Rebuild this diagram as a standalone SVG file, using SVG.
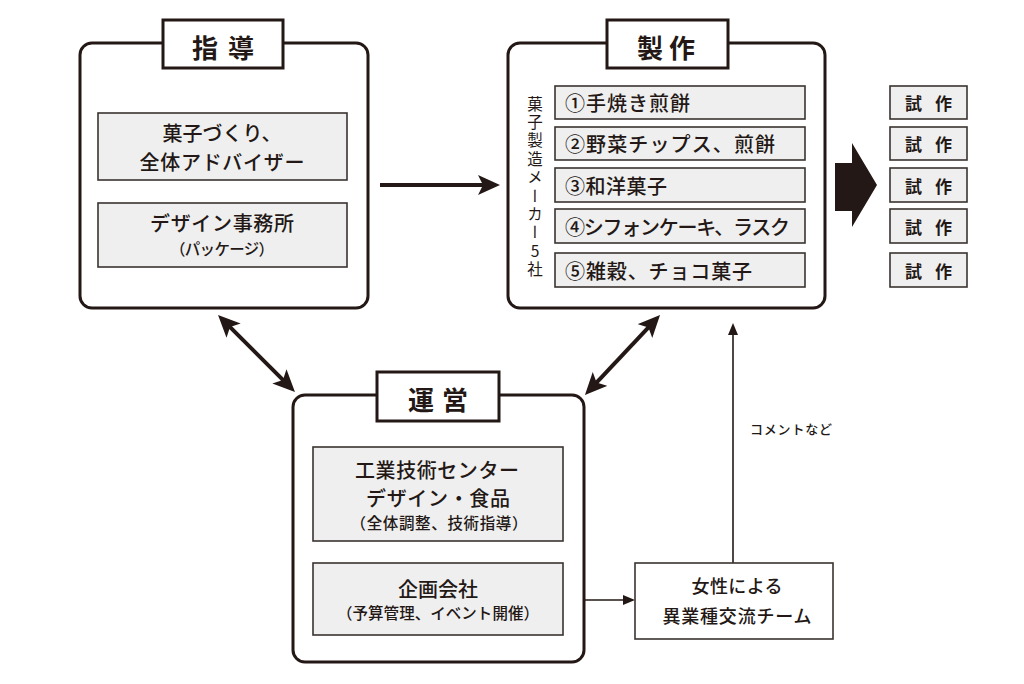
<svg xmlns="http://www.w3.org/2000/svg" width="1024" height="684" viewBox="0 0 1024 684">
<defs>
<style>
.outer{fill:#fff;stroke:#231815;stroke-width:3}
.title{fill:#fff;stroke:#231815;stroke-width:3}
.inner{fill:#efefef;stroke:#3a3330;stroke-width:1.6}
.plain{fill:#fff;stroke:#3a3330;stroke-width:1.6}
text{font-family:"Noto Sans CJK JP","Noto Sans CJK SC",sans-serif;fill:#231815;dominant-baseline:central}
.tt{font-size:26px;font-weight:700;text-anchor:middle}
.t20{font-size:20px;font-weight:500;text-anchor:middle}
.t16{font-size:15.5px;font-weight:500;text-anchor:middle}
.it{font-size:20px;font-weight:500}
.sk{font-size:17px;font-weight:700;text-anchor:middle}
.t18{font-size:18px;font-weight:500;text-anchor:middle}
.sm{font-size:13px;font-weight:500}
.thick{stroke:#231815;stroke-width:4;fill:none}
.thin{stroke:#231815;stroke-width:1.6;fill:none}
</style>
<marker id="ah" viewBox="0 0 22 20" markerUnits="userSpaceOnUse" markerWidth="22" markerHeight="20" refX="12" refY="10" orient="auto-start-reverse">
<path d="M0,0 L22,10 L0,20 L5,10 z" fill="#231815"/>
</marker>
<marker id="ahs" viewBox="0 0 12 10" markerUnits="userSpaceOnUse" markerWidth="12" markerHeight="10" refX="6" refY="5" orient="auto">
<path d="M0,0 L12,5 L0,10 z" fill="#231815"/>
</marker>
</defs>

<g id="connectors">
<line class="thick" x1="380" y1="185" x2="490" y2="185" marker-end="url(#ah)"/>
<line class="thick" x1="225.1" y1="322.1" x2="287.9" y2="384.9" marker-start="url(#ah)" marker-end="url(#ah)"/>
<line class="thick" x1="653.2" y1="322.3" x2="591.8" y2="387.7" marker-start="url(#ah)" marker-end="url(#ah)"/>
<line class="thin" x1="563" y1="600" x2="629" y2="600" marker-end="url(#ahs)"/>
<line class="thin" x1="733" y1="563" x2="733" y2="329" marker-end="url(#ahs)"/>
<text class="sm" x="750" y="428" textLength="82" lengthAdjust="spacing">コメントなど</text>
<polygon points="835,163 852,163 852,143 877,185 852,227 852,211 835,211" fill="#231815"/>
</g>

<g id="shidou">
<rect class="outer" x="80" y="43" width="288" height="265" rx="12"/>
<rect class="title" x="163" y="20" width="120" height="48"/>
<text class="tt" x="223" y="46" textLength="62" lengthAdjust="spacing">指 導</text>
<rect class="inner" x="98" y="113" width="249" height="67"/>
<text class="t20" x="222" y="132">菓子づくり、</text>
<text class="t20" x="222" y="161" textLength="165" lengthAdjust="spacing">全体アドバイザー</text>
<rect class="inner" x="98" y="203" width="249" height="64"/>
<text class="t20" x="222" y="222" textLength="144" lengthAdjust="spacing">デザイン事務所</text>
<text class="t16" x="222" y="248" textLength="104" lengthAdjust="spacing">（パッケージ）</text>
</g>

<g id="seisaku">
<rect class="outer" x="508" y="43" width="317" height="265" rx="12"/>
<rect class="title" x="607" y="20" width="121" height="48"/>
<text class="tt" x="666" y="46" textLength="58" lengthAdjust="spacing">製 作</text>
<text x="535" y="96" style="font-size:15.5px;font-weight:400;writing-mode:vertical-rl;text-orientation:upright;letter-spacing:2.9px;dominant-baseline:auto">菓子製造メーカー5社</text>
<rect class="inner" x="555" y="86" width="250" height="33"/>
<text class="it" x="565" y="102.5" textLength="125" lengthAdjust="spacing">①手焼き煎餅</text>
<rect class="inner" x="555" y="127" width="250" height="33"/>
<text class="it" x="565" y="143.5" textLength="210" lengthAdjust="spacing">②野菜チップス、煎餅</text>
<rect class="inner" x="555" y="168" width="250" height="34"/>
<text class="it" x="565" y="185" textLength="102" lengthAdjust="spacing">③和洋菓子</text>
<rect class="inner" x="555" y="209" width="250" height="34"/>
<text class="it" x="565" y="226" textLength="225" lengthAdjust="spacing">④シフォンケーキ、ラスク</text>
<rect class="inner" x="555" y="253" width="250" height="34"/>
<text class="it" x="565" y="270" textLength="187" lengthAdjust="spacing">⑤雑穀、チョコ菓子</text>
</g>

<g id="shisaku">
<rect class="inner" x="890" y="86" width="77" height="33"/>
<text class="sk" x="928.5" y="102.5" textLength="47" lengthAdjust="spacing">試 作</text>
<rect class="inner" x="890" y="127" width="77" height="33"/>
<text class="sk" x="928.5" y="143.5" textLength="47" lengthAdjust="spacing">試 作</text>
<rect class="inner" x="890" y="168" width="77" height="34"/>
<text class="sk" x="928.5" y="185" textLength="47" lengthAdjust="spacing">試 作</text>
<rect class="inner" x="890" y="209" width="77" height="34"/>
<text class="sk" x="928.5" y="226" textLength="47" lengthAdjust="spacing">試 作</text>
<rect class="inner" x="890" y="253" width="77" height="34"/>
<text class="sk" x="928.5" y="270" textLength="47" lengthAdjust="spacing">試 作</text>
</g>

<g id="unei">
<rect class="outer" x="293" y="395" width="291" height="267" rx="12"/>
<rect class="title" x="377" y="372" width="122" height="49"/>
<text class="tt" x="438" y="398" textLength="60" lengthAdjust="spacing">運 営</text>
<rect class="inner" x="313" y="447" width="250" height="94"/>
<text class="t20" x="437" y="469" textLength="164" lengthAdjust="spacing">工業技術センター</text>
<text class="t20" x="438" y="497" textLength="144" lengthAdjust="spacing">デザイン・食品</text>
<text class="t16" x="439" y="522" textLength="177" lengthAdjust="spacing">（全体調整、技術指導）</text>
<rect class="inner" x="313" y="563" width="250" height="72"/>
<text class="t20" x="438" y="588" textLength="80" lengthAdjust="spacing">企画会社</text>
<text class="t16" x="438" y="612" textLength="202" lengthAdjust="spacing">（予算管理、イベント開催）</text>
</g>

<g id="josei">
<rect class="plain" x="635" y="563" width="198" height="76"/>
<text class="t18" x="737" y="585" textLength="91" lengthAdjust="spacing">女性による</text>
<text class="t18" x="737" y="615" textLength="149" lengthAdjust="spacing">異業種交流チーム</text>
</g>
</svg>
